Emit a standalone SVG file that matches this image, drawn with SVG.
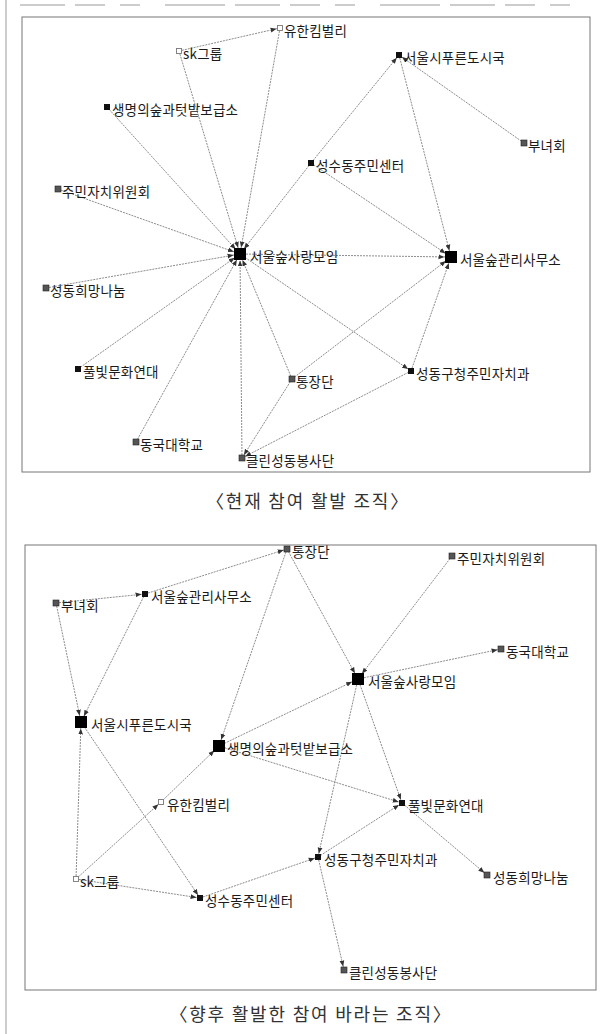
<svg xmlns="http://www.w3.org/2000/svg" width="611" height="1034" viewBox="0 0 611 1034">
<style>
.bg{fill:#fff}
.frame{fill:none;stroke:#777;stroke-width:1}
.page{fill:none;stroke:#999;stroke-width:1}
.e{stroke:#666;stroke-width:0.75;fill:none;stroke-dasharray:2 1}
.es{marker-end:url(#as)}
.eb{marker-end:url(#ab)}
.lb{font-family:"Noto Sans CJK KR","Noto Sans",sans-serif;font-size:13.5px;fill:#1a1a1a;letter-spacing:0.2px}
.cap{font-family:"Noto Sans CJK KR","Noto Sans",sans-serif;font-size:18px;fill:#333;letter-spacing:1.8px}
.blk{fill:#111}
.gry{fill:#555;stroke:#222;stroke-width:0.6}
.hol{fill:#fff;stroke:#777;stroke-width:0.9}
.big{fill:#000}
</style>
<defs>
<marker id="as" viewBox="0 0 10 10" refX="15.8" refY="5" markerWidth="6" markerHeight="6" orient="auto" markerUnits="userSpaceOnUse"><path d="M0,1 L10,5 L0,9 z" fill="#333"/></marker>
<marker id="ab" viewBox="0 0 10 10" refX="20.8" refY="5" markerWidth="6" markerHeight="6" orient="auto" markerUnits="userSpaceOnUse"><path d="M0,1 L10,5 L0,9 z" fill="#333"/></marker>
</defs>
<rect class="bg" x="0" y="0" width="611" height="1034"/>
<g id="page">
<line class="page" x1="6" y1="0" x2="6" y2="1034"/>
<line class="page" x1="20" y1="5" x2="590" y2="5" stroke-dasharray="45 10 30 15 20 25 60 10"/>
<rect class="frame" x="22" y="17" width="568" height="455"/>
<rect class="frame" x="25" y="545" width="571" height="445"/>
</g>
<g id="connectors-top">
<line class="e es" x1="179" y1="51" x2="280" y2="28"/>
<line class="e eb" x1="280" y1="28" x2="240" y2="254"/>
<line class="e eb" x1="179" y1="51" x2="240" y2="254"/>
<line class="e eb" x1="107" y1="107" x2="240" y2="254"/>
<line class="e eb" x1="58" y1="189" x2="240" y2="254"/>
<line class="e eb" x1="46" y1="288" x2="240" y2="254"/>
<line class="e eb" x1="78" y1="369" x2="240" y2="254"/>
<line class="e eb" x1="136" y1="442" x2="240" y2="254"/>
<line class="e eb" x1="242" y1="458" x2="240" y2="254"/>
<line class="e eb" x1="292" y1="379" x2="240" y2="254"/>
<line class="e es" x1="240" y1="254" x2="411" y2="371"/>
<line class="e eb" x1="240" y1="254" x2="451" y2="257"/>
<line class="e eb" x1="311" y1="163" x2="240" y2="254"/>
<line class="e es" x1="311" y1="163" x2="399" y2="55"/>
<line class="e es" x1="524" y1="143" x2="399" y2="55"/>
<line class="e eb" x1="399" y1="55" x2="451" y2="257"/>
<line class="e eb" x1="311" y1="163" x2="451" y2="257"/>
<line class="e eb" x1="292" y1="379" x2="451" y2="257"/>
<line class="e eb" x1="411" y1="371" x2="451" y2="257"/>
<line class="e es" x1="292" y1="379" x2="242" y2="458"/>
<line class="e es" x1="411" y1="371" x2="242" y2="458"/>
</g>
<g id="connectors-bottom">
<line class="e es" x1="56" y1="603" x2="145" y2="594"/>
<line class="e es" x1="145" y1="594" x2="287" y2="549"/>
<line class="e eb" x1="56" y1="603" x2="81" y2="722"/>
<line class="e eb" x1="145" y1="594" x2="81" y2="722"/>
<line class="e eb" x1="76" y1="879" x2="81" y2="722"/>
<line class="e es" x1="81" y1="722" x2="200" y2="898"/>
<line class="e es" x1="76" y1="879" x2="200" y2="898"/>
<line class="e es" x1="76" y1="879" x2="161" y2="802"/>
<line class="e eb" x1="161" y1="802" x2="219" y2="746"/>
<line class="e eb" x1="287" y1="549" x2="219" y2="746"/>
<line class="e eb" x1="287" y1="549" x2="358" y2="679"/>
<line class="e eb" x1="452" y1="556" x2="358" y2="679"/>
<line class="e es" x1="358" y1="679" x2="501" y2="649"/>
<line class="e eb" x1="219" y1="746" x2="358" y2="679"/>
<line class="e es" x1="219" y1="746" x2="402" y2="803"/>
<line class="e es" x1="358" y1="679" x2="402" y2="803"/>
<line class="e es" x1="358" y1="679" x2="318" y2="857"/>
<line class="e es" x1="318" y1="857" x2="402" y2="803"/>
<line class="e es" x1="402" y1="803" x2="487" y2="875"/>
<line class="e es" x1="200" y1="898" x2="318" y2="857"/>
<line class="e es" x1="318" y1="857" x2="344" y2="970"/>
</g>
<g id="t-yuhan"><rect class="hol" x="277.5" y="25.5" width="5" height="5"/><text class="lb" x="284" y="36">유한킴벌리</text></g>
<g id="t-sk"><rect class="hol" x="176.5" y="48.5" width="5" height="5"/><text class="lb" x="183" y="59">sk그룹</text></g>
<g id="t-seoulsi"><rect class="blk" x="396" y="52" width="6" height="6"/><text class="lb" x="404" y="63">서울시푸른도시국</text></g>
<g id="t-saengmyeong"><rect class="blk" x="104" y="104" width="6" height="6"/><text class="lb" x="112" y="115">생명의숲과텃밭보급소</text></g>
<g id="t-bunyeo"><rect class="gry" x="521" y="140" width="6" height="6"/><text class="lb" x="528" y="151">부녀회</text></g>
<g id="t-seongsu"><rect class="blk" x="308" y="160" width="6" height="6"/><text class="lb" x="316" y="171">성수동주민센터</text></g>
<g id="t-jumin"><rect class="gry" x="55" y="186" width="6" height="6"/><text class="lb" x="62" y="197">주민자치위원회</text></g>
<g id="t-sarang"><rect class="big" x="234" y="248" width="12" height="12"/><text class="lb" x="250" y="262">서울숲사랑모임</text></g>
<g id="t-gwanri"><rect class="big" x="445" y="251" width="12" height="12"/><text class="lb" x="460" y="265">서울숲관리사무소</text></g>
<g id="t-huimang"><rect class="gry" x="43" y="285" width="6" height="6"/><text class="lb" x="50" y="296">성동희망나눔</text></g>
<g id="t-pulbit"><rect class="blk" x="75" y="366" width="6" height="6"/><text class="lb" x="83" y="377">풀빛문화연대</text></g>
<g id="t-tongjang"><rect class="gry" x="289" y="376" width="6" height="6"/><text class="lb" x="296" y="387">통장단</text></g>
<g id="t-gucheong"><rect class="blk" x="408" y="368" width="6" height="6"/><text class="lb" x="416" y="379">성동구청주민자치과</text></g>
<g id="t-dongguk"><rect class="gry" x="133" y="439" width="6" height="6"/><text class="lb" x="140" y="450">동국대학교</text></g>
<g id="t-clean"><rect class="gry" x="239" y="455" width="6" height="6"/><text class="lb" x="246" y="466">클린성동봉사단</text></g>
<g id="cap1"><text class="cap" x="308" y="508" text-anchor="middle">〈현재 참여 활발 조직〉</text></g>
<g id="b-tongjang"><rect class="gry" x="284" y="546" width="6" height="6"/><text class="lb" x="292" y="557">통장단</text></g>
<g id="b-jumin"><rect class="gry" x="449" y="553" width="6" height="6"/><text class="lb" x="457" y="564">주민자치위원회</text></g>
<g id="b-gwanri"><rect class="blk" x="142" y="591" width="6" height="6"/><text class="lb" x="151" y="602">서울숲관리사무소</text></g>
<g id="b-bunyeo"><rect class="gry" x="53" y="600" width="6" height="6"/><text class="lb" x="61" y="611">부녀회</text></g>
<g id="b-dongguk"><rect class="gry" x="498" y="646" width="6" height="6"/><text class="lb" x="506" y="657">동국대학교</text></g>
<g id="b-sarang"><rect class="big" x="352" y="673" width="12" height="12"/><text class="lb" x="368" y="687">서울숲사랑모임</text></g>
<g id="b-seoulsi"><rect class="big" x="75" y="716" width="12" height="12"/><text class="lb" x="91" y="730">서울시푸른도시국</text></g>
<g id="b-saengmyeong"><rect class="big" x="213" y="740" width="12" height="12"/><text class="lb" x="227" y="754">생명의숲과텃밭보급소</text></g>
<g id="b-yuhan"><rect class="hol" x="158.5" y="799.5" width="5" height="5"/><text class="lb" x="167" y="810">유한킴벌리</text></g>
<g id="b-pulbit"><rect class="blk" x="399" y="800" width="6" height="6"/><text class="lb" x="408" y="811">풀빛문화연대</text></g>
<g id="b-gucheong"><rect class="blk" x="315" y="854" width="6" height="6"/><text class="lb" x="324" y="865">성동구청주민자치과</text></g>
<g id="b-huimang"><rect class="gry" x="484" y="872" width="6" height="6"/><text class="lb" x="493" y="883">성동희망나눔</text></g>
<g id="b-sk"><rect class="hol" x="73.5" y="876.5" width="5" height="5"/><text class="lb" x="80" y="887">sk그룹</text></g>
<g id="b-seongsu"><rect class="blk" x="197" y="895" width="6" height="6"/><text class="lb" x="205" y="906">성수동주민센터</text></g>
<g id="b-clean"><rect class="gry" x="341" y="967" width="6" height="6"/><text class="lb" x="349" y="978">클린성동봉사단</text></g>
<g id="cap2"><text class="cap" x="311" y="1021" text-anchor="middle">〈향후 활발한 참여 바라는 조직〉</text></g>
</svg>
